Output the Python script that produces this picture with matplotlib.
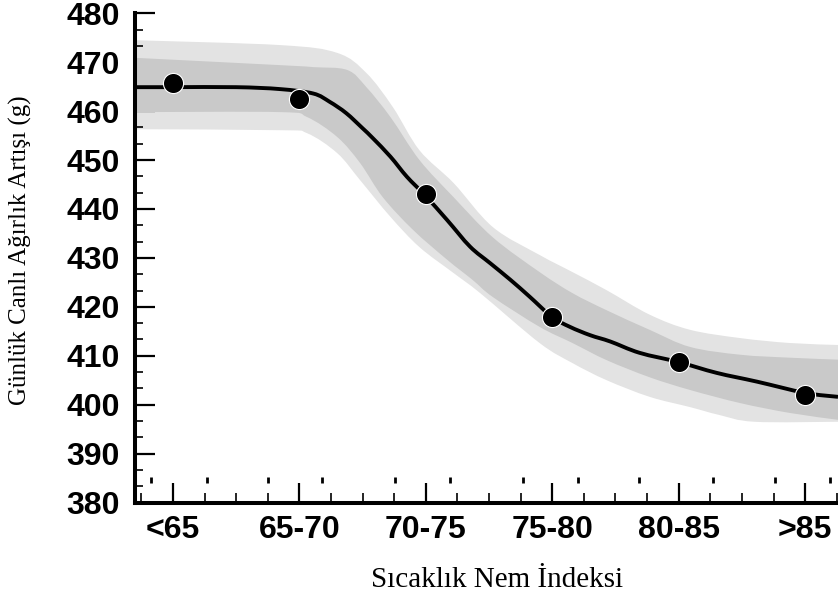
import numpy as np
import matplotlib
matplotlib.use("Agg")
import matplotlib.pyplot as plt
from matplotlib.path import Path
from matplotlib.patches import PathPatch
from matplotlib.ticker import MultipleLocator

# categories and the observed means
categories = ["<65", "65-70", "70-75", "75-80", "80-85", ">85"]
gain = [465.8, 462.5, 443.0, 417.9, 408.8, 402.0]

# fitted curve (x in category units)
fit_x = [-0.30, 0.0, 0.5, 0.85, 1.11, 1.24, 1.37, 1.50, 1.58, 1.72, 1.85, 1.99, 2.17, 2.35,
         2.51, 2.67, 2.82, 3.0, 3.14, 3.30, 3.46, 3.69, 4.0, 4.30, 4.62, 5.0, 5.26]
fit_y = [464.9, 464.9, 464.9, 464.5, 463.6, 461.9, 459.6, 456.5, 454.5, 450.7, 446.6, 442.9, 437.7, 432.3,
         428.9, 425.5, 422.1, 417.9, 415.9, 414.2, 412.9, 410.6, 408.7, 406.5, 404.7, 402.4, 401.6]

# outer (light) band
outer_up_x = [-0.30, 0.85, 1.30, 1.53, 1.74, 1.95, 2.22, 2.53, 2.90, 3.16, 3.43, 3.77, 4.09, 4.49, 4.88, 5.26]
outer_up_y = [474.5, 473.5, 471.9, 467.8, 460.8, 452.0, 445.3, 436.3, 430.6, 427.1, 423.4, 418.4, 415.3, 413.6, 412.6, 412.2]
outer_lo_x = [-0.30, 0.85, 1.06, 1.30, 1.48, 1.72, 1.95, 2.22, 2.43, 2.90, 3.16, 3.43, 3.77, 4.09, 4.32, 4.60, 5.26]
outer_lo_y = [456.3, 456.1, 455.5, 451.4, 445.9, 438.4, 432.2, 426.9, 422.8, 412.6, 408.5, 405.0, 401.6, 399.5, 397.9, 396.5, 396.5]

# inner (dark) band
inner_up_x = [-0.30, 0.85, 1.11, 1.38, 1.53, 1.72, 1.95, 2.22, 2.53, 2.90, 3.16, 3.43, 3.77, 4.09, 4.49, 4.88, 5.26]
inner_up_y = [470.9, 469.4, 469.0, 468.4, 464.9, 458.8, 450.0, 442.4, 434.2, 427.1, 422.8, 419.3, 415.3, 411.8, 410.2, 409.6, 409.2]
inner_lo_x = [-0.30, 0.85, 1.06, 1.30, 1.48, 1.66, 1.90, 2.17, 2.37, 2.53, 2.90, 3.16, 3.43, 3.77, 4.09, 4.49, 4.88, 5.26]
inner_lo_y = [459.8, 459.8, 458.8, 454.7, 449.4, 442.4, 435.7, 429.6, 425.5, 422.0, 415.9, 412.6, 409.1, 405.6, 403.0, 400.3, 398.3, 396.9]

# small stray marks just above the x axis
mark_x = [-0.17, 0.27, 0.75, 1.18, 1.76, 2.19, 2.77, 3.20, 3.69, 4.27, 4.76, 5.20]
mark_y = 384.6


def smooth_segments(xs, ys):
    # catmull-rom style bezier pieces through the read points
    p = np.column_stack([xs, ys])
    verts, codes = [], []
    n = len(p)
    for i in range(n - 1):
        p0 = p[max(i - 1, 0)]
        p1 = p[i]
        p2 = p[i + 1]
        p3 = p[min(i + 2, n - 1)]
        c1 = p1 + (p2 - p0) / 6
        c2 = p2 - (p3 - p1) / 6
        verts += [tuple(c1), tuple(c2), tuple(p2)]
        codes += [Path.CURVE4] * 3
    return verts, codes


def smooth_line(xs, ys):
    v, c = smooth_segments(xs, ys)
    return Path([(xs[0], ys[0])] + v, [Path.MOVETO] + c)


def smooth_band(xu, yu, xl, yl):
    vu, cu = smooth_segments(xu, yu)
    vl, cl = smooth_segments(xl[::-1], yl[::-1])
    verts = [(xu[0], yu[0])] + vu + [(xl[-1], yl[-1])] + vl + [(xu[0], yu[0])]
    codes = [Path.MOVETO] + cu + [Path.LINETO] + cl + [Path.CLOSEPOLY]
    return Path(verts, codes)


fig = plt.figure(figsize=(8.38, 6.02), dpi=100)
ax = fig.add_axes([135 / 838, 99.5 / 602, 703 / 838, 489.2 / 602])

ax.add_patch(PathPatch(smooth_band(outer_up_x, outer_up_y, outer_lo_x, outer_lo_y),
                       facecolor="#e3e3e3", lw=0, zorder=1))
ax.add_patch(PathPatch(smooth_band(inner_up_x, inner_up_y, inner_lo_x, inner_lo_y),
                       facecolor="#c9c9c9", lw=0, zorder=2))
ax.add_patch(PathPatch(smooth_line(fit_x, fit_y), facecolor="none", edgecolor="black",
                       lw=2.8, zorder=3))

ax.plot(range(len(categories)), gain, "o", color="black", ms=14.5,
        mec="white", mew=0.8, zorder=4)
ax.plot(mark_x, [mark_y] * len(mark_x), "|", color="black", ms=4, mew=2, zorder=4)

ax.set_xlim(-0.30, 5.26)
ax.set_ylim(380, 480)

ax.set_xticks(range(len(categories)))
ax.set_xticklabels(categories)
ax.xaxis.set_minor_locator(MultipleLocator(0.25))
ax.yaxis.set_major_locator(MultipleLocator(10))
ax.yaxis.set_minor_locator(MultipleLocator(10 / 3))

for s in ["top", "right"]:
    ax.spines[s].set_visible(False)
for s in ["left", "bottom"]:
    ax.spines[s].set_linewidth(2.9)

ax.tick_params(axis="both", which="major", direction="in", length=14.4, width=1.6, color="black")
ax.tick_params(axis="x", which="minor", direction="in", length=7.2, width=1.2)
ax.tick_params(axis="y", which="minor", direction="in", length=5.8, width=1.2)
ax.tick_params(axis="y", which="major", pad=11)
ax.tick_params(axis="x", which="major", pad=9)

for lab in ax.get_xticklabels() + ax.get_yticklabels():
    lab.set_fontfamily("Liberation Sans")
    lab.set_fontweight("bold")
    lab.set_fontsize(23)

fig.text(20 / 838, 1 - 250 / 602, "Günlük Canlı Ağırlık Artışı (g)", rotation=90,
         ha="center", va="center", family="Liberation Serif", fontsize=18)
fig.text(497 / 838, 1 - 580 / 602, "Sıcaklık Nem İndeksi",
         ha="center", va="center", family="Liberation Serif", fontsize=21)

fig.savefig("out.png", dpi=100)
